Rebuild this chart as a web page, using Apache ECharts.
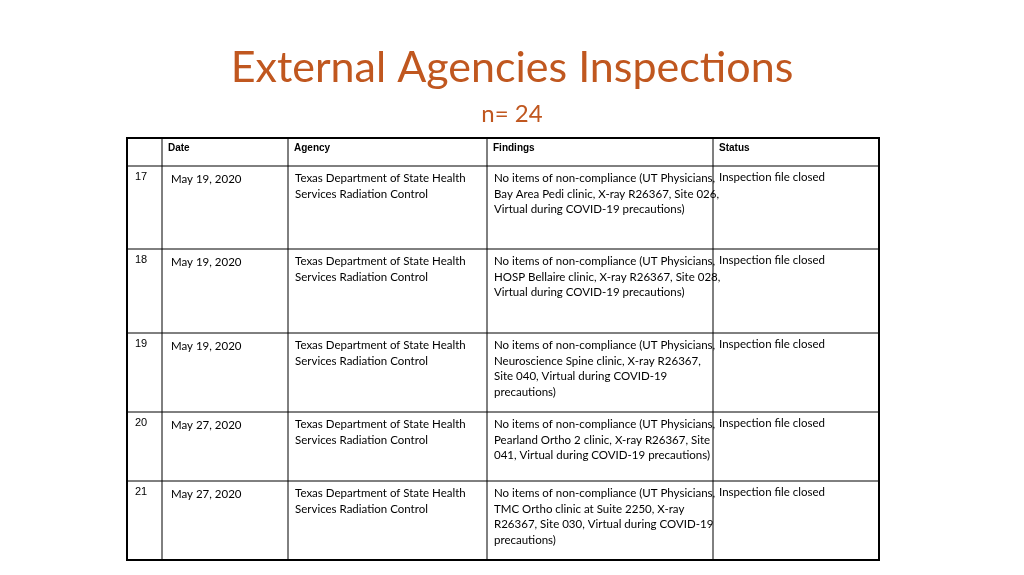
<!DOCTYPE html>
<html><head><meta charset="utf-8">
<script src="https://cdn.jsdelivr.net/npm/echarts@6/dist/echarts.min.js"></script>
<style>html,body{margin:0;padding:0;background:#fff}#c{width:1024px;height:575px}</style>
</head><body><div id="c"></div>
<script>
const title = "External Agencies Inspections";
const subtitle = "n= 24";
const headers = ["", "Date", "Agency", "Findings", "Status"];
const rowNums = ["17", "18", "19", "20", "21"];
const dates = ["May 19, 2020", "May 19, 2020", "May 19, 2020", "May 27, 2020", "May 27, 2020"];
const agencies = Array(5).fill("Texas Department of State Health\nServices Radiation Control");
const findings = [
  "No items of non-compliance (UT Physicians,\nBay Area Pedi clinic, X-ray R26367, Site 026,\nVirtual during COVID-19 precautions)",
  "No items of non-compliance (UT Physicians,\nHOSP Bellaire clinic, X-ray R26367, Site 028,\nVirtual during COVID-19 precautions)",
  "No items of non-compliance (UT Physicians,\nNeuroscience Spine clinic, X-ray R26367,\nSite 040, Virtual during COVID-19\nprecautions)",
  "No items of non-compliance (UT Physicians,\nPearland Ortho 2 clinic, X-ray R26367, Site\n041, Virtual during COVID-19 precautions)",
  "No items of non-compliance (UT Physicians,\nTMC Ortho clinic at Suite 2250, X-ray\nR26367, Site 030, Virtual during COVID-19\nprecautions)"
];
const statuses = Array(5).fill("Inspection file closed");

const colX = [127, 162, 288, 487, 713, 879];
const rowY = [138, 166, 249, 333, 412, 481, 560];
const g = [];
for (let i = 1; i < colX.length - 1; i++)
  g.push({type:'line', shape:{x1:colX[i], y1:rowY[0], x2:colX[i], y2:rowY[rowY.length-1]}, style:{stroke:'#000', lineWidth:1}});
for (let j = 1; j < rowY.length - 1; j++)
  g.push({type:'line', shape:{x1:colX[0], y1:rowY[j], x2:colX[5], y2:rowY[j]}, style:{stroke:'#000', lineWidth:1}});
g.push({type:'rect', shape:{x:colX[0], y:rowY[0], width:colX[5]-colX[0], height:rowY[6]-rowY[0]}, style:{fill:'none', stroke:'#000', lineWidth:2}});
for (let i = 1; i < headers.length; i++)
  g.push({type:'text', x:colX[i]+6, y:rowY[0]+5, style:{text:headers[i], font:'bold 10px "Liberation Sans", Arial', fill:'#000'}});
const body = (x, y, t) => g.push({type:'text', x, y, style:{text:t, font:'11.5px Lato', lineHeight:15.5, fill:'#000'}});
for (let r = 0; r < rowNums.length; r++) {
  const y = rowY[r+1];
  g.push({type:'text', x:colX[0]+8, y:y+5, style:{text:rowNums[r], font:'11px "Liberation Sans", Arial', fill:'#000'}});
  body(colX[1]+9, y+6, dates[r]);
  body(colX[2]+7, y+5, agencies[r]);
  body(colX[3]+7, y+5, findings[r]);
  body(colX[4]+6, y+4, statuses[r]);
}
const chart = echarts.init(document.getElementById('c'));
chart.setOption({
  title:[{text:title, left:'center', top:42, textStyle:{fontFamily:'Lato', fontSize:43, fontWeight:'normal', color:'#C0571F'}},
         {text:subtitle, left:'center', top:97, textStyle:{fontFamily:'Lato', fontSize:24, fontWeight:'normal', color:'#C0571F'}}],
  graphic:g
});
</script></body></html>
